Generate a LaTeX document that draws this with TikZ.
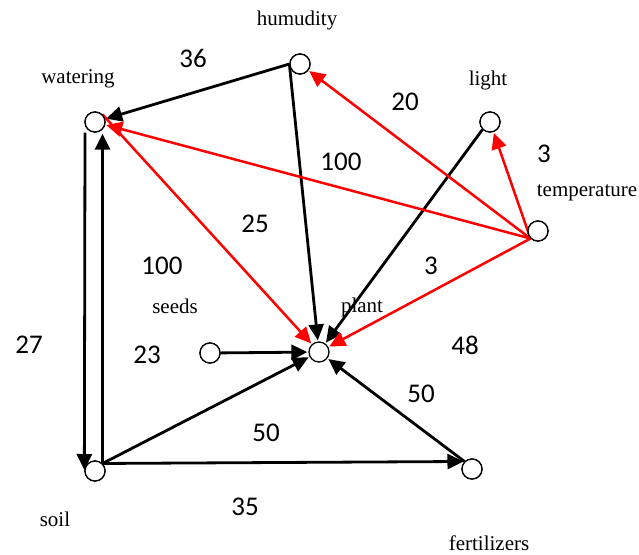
\documentclass[tikz,border=0pt]{standalone}
\usepackage{fontspec}
\setmainfont{Liberation Serif}
\newfontfamily\numfont{Carlito}
\usetikzlibrary{arrows.meta}
\definecolor{myred}{RGB}{255,0,0}
\tikzset{
  vtx/.style={circle,draw=black,line width=1.3pt,fill=white,minimum size=20pt,inner sep=0pt},
  lbl/.style={font=\fontsize{21}{25}\selectfont,inner sep=0pt},
  num/.style={font=\numfont\fontsize{27}{32}\selectfont,inner sep=0pt},
  blk/.style={draw=black,line width=2.8pt,-{Triangle[length=16pt,width=15pt]},shorten >=1pt},
  rd/.style={draw=myred,line width=2.5pt,-{Triangle[length=16pt,width=15pt]},shorten >=1pt}
}
\begin{document}
\begin{tikzpicture}[x=1pt,y=-1pt]
\useasboundingbox (0,0) rectangle (639,554);
% vertices
\node[vtx] (water) at (95,122) {};
\node[vtx] (hum) at (300,64) {};
\node[vtx] (light) at (490,122) {};
\node[vtx] (temp) at (538,231) {};
\node[vtx] (seeds) at (210,353) {};
\node[vtx] (plant) at (319,352) {};
\node[vtx] (soil) at (95,471) {};
\node[vtx] (fert) at (472,469) {};
% vertex labels
\node[lbl] (lwater) at (78,79) {watering};
\node[lbl] (lhum) at (297,20) {humudity};
\node[lbl] (llight) at (488,80) {light};
\node[lbl] (ltemp) at (587,193) {temperature};
\node[lbl] (lseeds) at (175,306) {seeds};
\node[lbl] (lplant) at (362,307) {plant};
\node[lbl] (lsoil) at (55,519) {soil};
\node[lbl] (lfert) at (489,543) {fertilizers};
% black edges
\draw[blk] (hum.west) -- (water);
\draw[blk] (hum.west) -- (plant);
\draw[blk] (light.south west) -- (plant);
\draw[blk] (seeds) -- (plant);
\draw[blk] (soil.north east) -- (plant);
\draw[blk] (soil.north east) -- (fert.north west);
\draw[blk] (fert.north west) -- (plant);
\draw[blk] ([xshift=-10pt]water.south) -- (soil.west);
\draw[blk] (soil.north east) -- (soil.north east |- water.south);
% red edges
\draw[rd] (water.north east) -- (plant);
\draw[rd] (temp.south west) -- (hum);
\draw[rd] (temp.south west) -- (water);
\draw[rd] (temp.south west) -- (light);
\draw[rd] (temp.south west) -- (plant);
% redraw vertices on top
\node[vtx] at (water) {};
\node[vtx] at (hum) {};
\node[vtx] at (light) {};
\node[vtx] at (temp) {};
\node[vtx] at (seeds) {};
\node[vtx] at (soil) {};
\node[vtx] at (fert) {};
% weights
\node[num] (w36) at (193,58) {36};
\node[num] (w20) at (405,102) {20};
\node[num] (w100a) at (341,162) {100};
\node[num] (w3a) at (544,154) {3};
\node[num] (w25) at (255,224) {25};
\node[num] (w100b) at (162,266) {100};
\node[num] (w3b) at (431,266) {3};
\node[num] (w27) at (29,345) {27};
\node[num] (w23) at (147,355) {23};
\node[num] (w48) at (465,345) {48};
\node[num] (w50a) at (421,394) {50};
\node[num] (w50b) at (266,433) {50};
\node[num] (w35) at (245,507) {35};
\end{tikzpicture}
\end{document}
